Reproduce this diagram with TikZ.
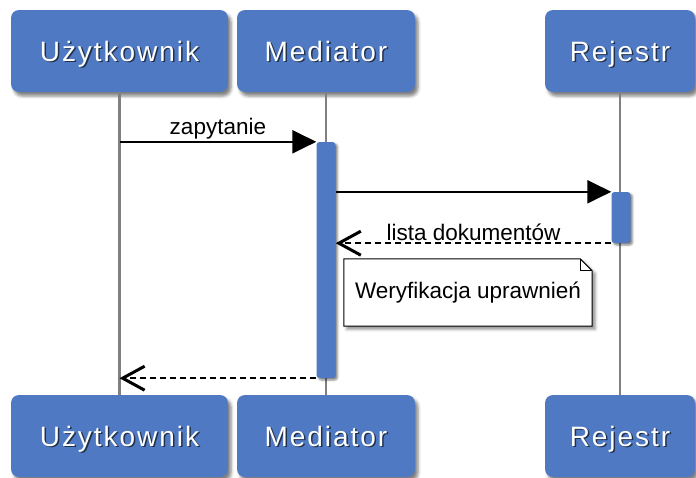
\documentclass[tikz,border=0pt]{standalone}
\usepackage{fontspec}
\setmainfont{Liberation Sans}
\newfontfamily\actorfont[LetterSpace=7]{Liberation Sans}
\usepackage{tikz}
\usetikzlibrary{arrows.meta,shadows.blur,backgrounds}

\definecolor{actorblue}{HTML}{4F7AC3}
\definecolor{lifegray}{HTML}{808080}
\newcommand{\shadowed}[1]{\makebox[0pt][l]{\hspace{1.5pt}\raisebox{-1.5pt}{\color{actorblue!40!black}#1}}#1}

\tikzset{
  actor/.style={fill=actorblue, rounded corners=8pt, minimum height=82pt, inner sep=0pt,
    text height=20pt, text depth=0pt,
    text=white, font=\actorfont\fontsize{28}{32}\selectfont,
    blur shadow={shadow xshift=3pt, shadow yshift=-4pt, shadow blur radius=3pt, shadow opacity=50}},
  lifeline/.style={draw=lifegray, line width=2.5pt},
  act/.style={fill=actorblue, rounded corners=3pt, minimum width=19pt, inner sep=0pt,
    blur shadow={shadow xshift=2pt, shadow yshift=-2pt, shadow blur radius=2pt, shadow opacity=50}},
  call/.style={line width=2.2pt, -{Triangle[length=24pt,width=23pt]}},
  reply/.style={line width=2.5pt, dash pattern=on 6.5pt off 3.5pt,
    -{Straight Barb[length=22pt,width=24pt,line width=3pt]}},
  msg/.style={font=\fontsize{22.5}{26}\selectfont, inner sep=1.5pt},
  notetext/.style={font=\fontsize{22.5}{26}\selectfont, minimum width=248pt, minimum height=67pt, inner sep=0pt},
  noteshape/.style={fill=white, draw=black, line width=1pt,
    blur shadow={shadow xshift=3pt, shadow yshift=-3pt, shadow blur radius=3pt, shadow opacity=45}}
}

\begin{document}
\begin{tikzpicture}[x=1pt, y=-1pt]
\useasboundingbox (0,0) rectangle (696,477);

% participants, top and bottom
\node [actor, minimum width=217pt] (user-top) at (119.5,51) {\shadowed{Użytkownik}};
\node [actor, minimum width=178pt] (med-top) at (326,51) {\shadowed{Mediator}};
\node [actor, minimum width=150pt] (reg-top) at (620,51) {\shadowed{Rejestr}};
\node [actor, minimum width=217pt] (user-bot) at (119.5,436) {\shadowed{Użytkownik}};
\node [actor, minimum width=178pt] (med-bot) at (326,436) {\shadowed{Mediator}};
\node [actor, minimum width=150pt] (reg-bot) at (620,436) {\shadowed{Rejestr}};

% lifelines
\draw [lifeline] (user-top) -- (user-bot);
\draw [lifeline] (med-top) -- (med-bot);
\draw [lifeline] (reg-top) -- (reg-bot);

% activations
\node [act, minimum height=236pt] (med-act) at (326,260) {};
\node [act, minimum height=51pt] (reg-act) at (621,217.5) {};

% messages
\coordinate (ask) at (user-top |- med-act.north);
\coordinate (back) at (user-top |- med-act.south);
\draw [call] (ask) -- node [msg, above] (ask-lbl) {zapytanie} (med-act.north west);
\draw [call] (med-act.east |- reg-act.north) -- (reg-act.north west);
\draw [reply] (reg-act.south west) -- node [msg, above] (list-lbl) {lista dokumentów} (med-act.east |- reg-act.south);
\draw [reply] (med-act.south west) -- (back);

% note
\node [notetext] (check) at (468,292.5) {Weryfikacja uprawnień};
\begin{scope}[on background layer]
\path [noteshape] (check.north west) -- ([xshift=-12pt]check.north east)
  -- ([yshift=-12pt]check.north east) -- (check.south east) -- (check.south west) -- cycle;
\draw [line width=1pt] ([xshift=-12pt]check.north east) |- ([yshift=-12pt]check.north east);
\end{scope}
\end{tikzpicture}
\end{document}
